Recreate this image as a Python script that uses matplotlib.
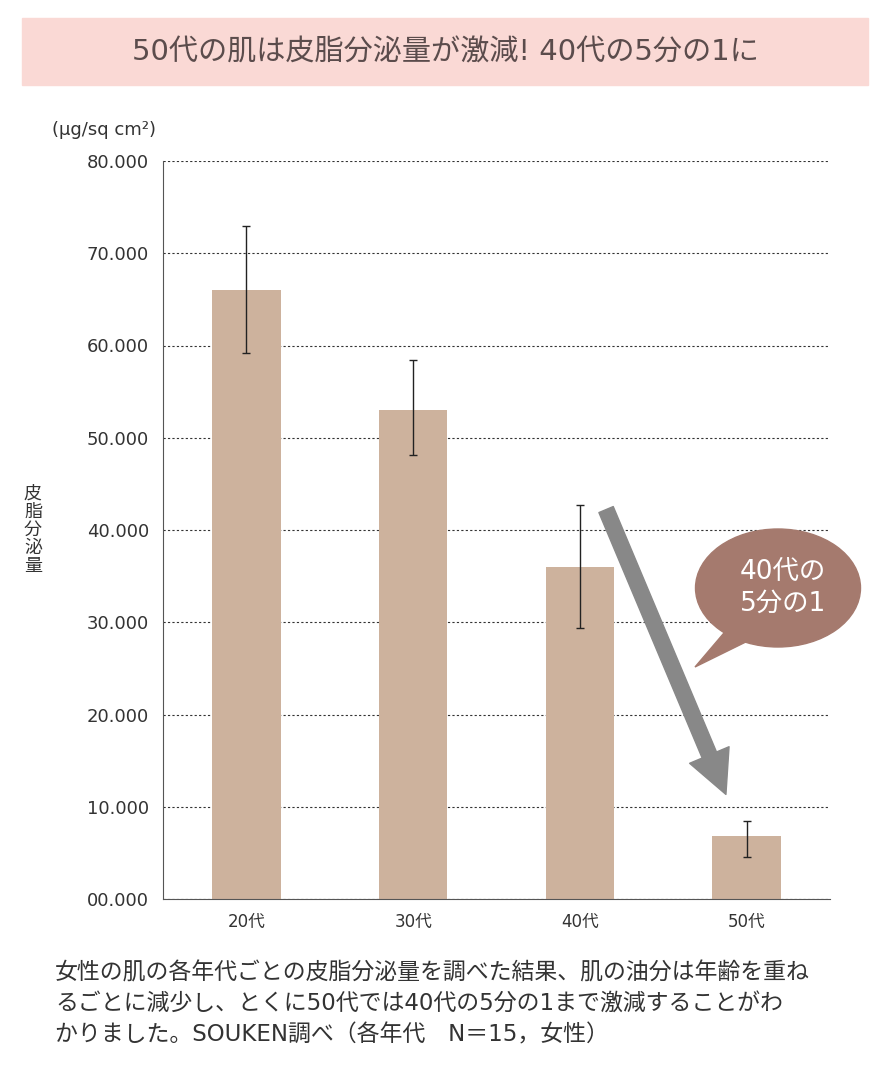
import matplotlib
matplotlib.use("Agg")
import matplotlib.pyplot as plt
from matplotlib.patches import Rectangle, Ellipse, Polygon, FancyArrowPatch

plt.rcParams['font.family'] = ['DejaVu Sans', 'Noto Sans CJK JP']

categories = ['20代', '30代', '40代', '50代']
values = [66.0, 53.0, 36.0, 6.8]
err_low = [59.2, 48.1, 29.4, 4.6]
err_high = [73.0, 58.4, 42.7, 8.5]
yticks = [0, 10, 20, 30, 40, 50, 60, 70, 80]
ytick_labels = ['00.000', '10.000', '20.000', '30.000', '40.000', '50.000', '60.000', '70.000', '80.000']

fig = plt.figure(figsize=(8.89, 10.69), dpi=100)
ax = fig.add_axes([163/889, 1-899/1069, (830-163)/889, (899-161)/1069])
x = list(range(len(categories)))
yerr = [[v - l for v, l in zip(values, err_low)], [h - v for v, h in zip(values, err_high)]]
ax.bar(x, values, width=0.41, color='#cdb29d', zorder=2)
ax.errorbar(x, values, yerr=yerr, fmt='none', ecolor='#222222', elinewidth=1, capsize=3, zorder=3)
ax.set_xlim(-0.5, 3.5)
ax.set_ylim(0, 80)
ax.set_yticks(yticks)
ax.set_yticklabels(ytick_labels, fontsize=13, color='#333333')
ax.set_xticks(x)
ax.set_xticklabels(categories, fontsize=12, color='#333333')
ax.tick_params(length=0, pad=10)
ax.yaxis.grid(True, linestyle=(0, (2, 2)), color='#333333', linewidth=0.8, zorder=1)
for s in ['top', 'right']:
    ax.spines[s].set_visible(False)
for s in ['left', 'bottom']:
    ax.spines[s].set_color('#555555')

ov = fig.add_axes([0, 0, 1, 1], facecolor='none')
ov.set_xlim(0, 889); ov.set_ylim(1069, 0); ov.axis('off')
ov.add_patch(Rectangle((22, 18), 846, 67, color='#fad9d5', zorder=0))
ov.text(445, 52, '50代の肌は皮脂分泌量が激減! 40代の5分の1に', fontsize=21, color='#5b4c4c',
        ha='center', va='center')
ov.text(52, 130, '(μg/sq cm²)', fontsize=13, color='#333333', ha='left', va='center')
ov.text(33, 530, '皮\n脂\n分\n泌\n量', fontsize=13, color='#333333', ha='center', va='center', linespacing=1.0)
ov.add_patch(FancyArrowPatch((605, 507), (727, 797), arrowstyle='simple,head_width=2.2,head_length=2.2,tail_width=0.8',
                             mutation_scale=14, color='#888888', zorder=5))
ov.add_patch(Polygon([[735, 620], [695, 667], [760, 635]], color='#a57a6e', zorder=6))
ov.add_patch(Ellipse((778, 588), 165, 118, color='#a57a6e', zorder=6))
ov.text(783, 588, '40代の\n5分の1', fontsize=19, color='white', ha='center', va='center', zorder=7, linespacing=1.3)
caption = ('女性の肌の各年代ごとの皮脂分泌量を調べた結果、肌の油分は年齢を重ね\n'
           'るごとに減少し、とくに50代では40代の5分の1まで激減することがわ\n'
           'かりました。SOUKEN調べ（各年代　N＝15，女性）')
ov.text(55, 1004, caption, fontsize=16.5, color='#333333', ha='left', va='center', linespacing=1.45)

fig.savefig('out.png', dpi=100)
